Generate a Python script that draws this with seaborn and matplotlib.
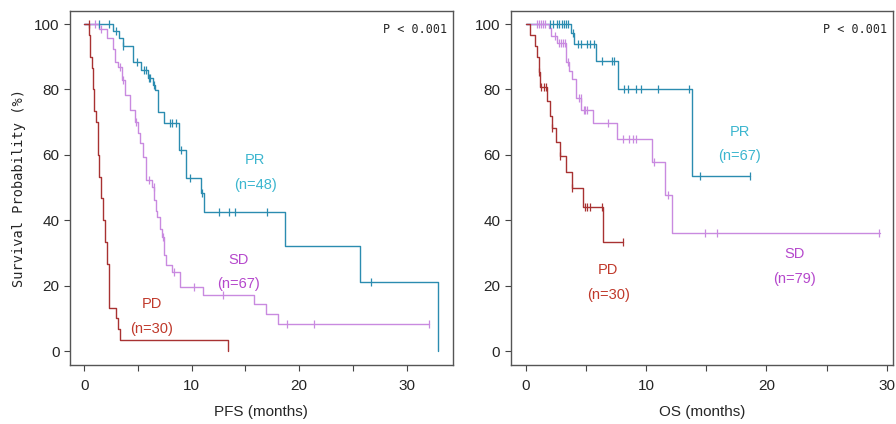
import seaborn as sns
import matplotlib.pyplot as plt

# PFS curves (step points: time in months, survival %)
pfs_pr_t = [0, 2.7, 3.2, 3.57, 4.56, 5.3, 5.9, 6.36, 6.6, 6.9, 7.44, 8.8, 9.5, 10.86, 11.1, 18.7, 25.7, 32.9]
pfs_pr_s = [100, 97.9, 95.8, 93.4, 88.5, 86.0, 83.4, 81.3, 79.8, 73.2, 69.8, 61.6, 52.8, 48.2, 42.5, 32.0, 21.2, 0]
pfs_pr_cens_t = [1.4, 2.35, 2.95, 3.65, 4.87, 5.6, 5.75, 6.0, 6.15, 6.45, 8.0, 8.2, 8.56, 9.0, 9.8, 10.98, 12.5, 13.5, 14.0, 17.0, 26.7]
pfs_pr_cens_s = [100, 100, 97.9, 93.4, 88.5, 86.0, 86.0, 83.4, 83.4, 81.3, 69.8, 69.8, 69.8, 61.6, 52.8, 48.2, 42.5, 42.5, 42.5, 42.5, 21.2]

pfs_sd_t = [0, 1.4, 2.08, 2.64, 2.86, 3.16, 3.48, 3.79, 4.25, 4.72, 4.97, 5.18, 5.43, 5.71, 6.27, 6.48, 6.64,
            6.73, 7.06, 7.28, 7.44, 7.57, 8.2, 8.9, 11.07, 15.8, 16.9, 18.05, 32.1]
pfs_sd_s = [100, 98.5, 95.6, 92.5, 88.5, 87.0, 82.9, 78.3, 73.7, 70.1, 66.6, 63.5, 59.4, 52.3, 50.2, 46.2, 42.8,
            41.0, 37.4, 34.9, 29.3, 26.2, 24.2, 19.6, 17.2, 14.3, 11.4, 8.4, 8.4]
pfs_sd_cens_t = [1.0, 1.6, 3.3, 3.6, 4.8, 6.0, 6.5, 7.3, 8.4, 10.2, 12.9, 18.9, 21.4, 32.1]
pfs_sd_cens_s = [100, 98.5, 87.0, 82.9, 70.1, 52.3, 50.2, 34.9, 24.2, 19.6, 17.2, 8.4, 8.4, 8.4]

pfs_pd_t = [0, 0.45, 0.55, 0.7, 0.84, 0.95, 1.1, 1.25, 1.4, 1.55, 1.75, 1.95, 2.1, 2.3, 3.0, 3.15, 3.3, 13.4]
pfs_pd_s = [100, 96.7, 90.0, 86.7, 80.0, 73.3, 70.0, 60.0, 53.3, 46.7, 40.0, 33.3, 26.7, 13.3, 10.0, 6.7, 3.3, 0]
pfs_pd_cens_t = [0.45]
pfs_pd_cens_s = [100]

# OS curves
os_pr_t = [0, 3.74, 4.0, 5.82, 7.63, 13.8, 18.6]
os_pr_s = [100, 97.2, 94.0, 88.6, 80.1, 53.4, 53.4]
os_pr_cens_t = [2.0, 2.3, 2.6, 2.8, 3.0, 3.2, 3.35, 3.5, 3.94, 4.35, 4.63, 5.05, 5.38, 5.66, 6.3, 7.13, 7.32,
                8.18, 8.46, 9.2, 9.6, 11.0, 13.6, 14.5, 18.6]
os_pr_cens_s = [100, 100, 100, 100, 100, 100, 100, 100, 97.2, 94.0, 94.0, 94.0, 94.0, 94.0, 88.6, 88.6, 88.6,
                80.1, 80.1, 80.1, 80.1, 80.1, 80.1, 53.4, 53.4]

os_sd_t = [0, 1.91, 2.13, 2.6, 3.38, 3.6, 3.85, 4.19, 4.57, 5.56, 7.6, 10.5, 11.56, 12.17, 29.45]
os_sd_s = [100, 98.7, 96.5, 94.1, 88.4, 85.6, 83.1, 77.5, 73.7, 69.6, 65.0, 57.8, 47.8, 36.0, 36.0]
os_sd_cens_t = [0.9, 1.1, 1.3, 1.45, 1.6, 2.4, 2.8, 2.95, 3.1, 3.25, 3.55, 4.4, 4.6, 4.8, 4.95, 5.1, 6.8,
                8.1, 8.6, 8.9, 9.2, 10.7, 11.8, 14.9, 15.9, 29.4]
os_sd_cens_s = [100, 100, 100, 100, 100, 96.5, 94.1, 94.1, 94.1, 94.1, 88.4, 77.5, 77.5, 73.7, 73.7, 73.7, 69.6,
                65.0, 65.0, 65.0, 65.0, 57.8, 47.8, 36.0, 36.0, 36.0]

os_pd_t = [0, 0.33, 0.75, 0.97, 1.08, 1.22, 1.77, 2.0, 2.19, 2.5, 2.83, 3.38, 3.88, 4.77, 6.43, 8.1]
os_pd_s = [100, 96.7, 93.3, 90.0, 85.5, 80.7, 76.5, 72.0, 68.1, 63.8, 59.5, 54.9, 49.8, 44.2, 33.2, 33.2]
os_pd_cens_t = [1.1, 1.3, 1.5, 1.65, 2.19, 2.83, 3.88, 4.9, 5.05, 5.38, 6.3, 8.1]
os_pd_cens_s = [85.5, 80.7, 80.7, 80.7, 68.1, 59.5, 49.8, 44.2, 44.2, 44.2, 44.2, 33.2]

groups = ["PR", "SD", "PD"]
line_colors = {"PR": "#2b8cb0", "SD": "#c98ae0", "PD": "#a83232"}
label_colors = {"PR": "#3cb6cf", "SD": "#b548cc", "PD": "#c0392b"}

pfs_n = {"PR": "(n=48)", "SD": "(n=67)", "PD": "(n=30)"}
os_n = {"PR": "(n=67)", "SD": "(n=79)", "PD": "(n=30)"}
pfs_label_pos = {"PR": (15.9, 58.4, 50.8), "SD": (14.4, 27.9, 20.6), "PD": (6.3, 14.3, 6.8)}
os_label_pos = {"PR": (17.8, 67.1, 59.6), "SD": (22.3, 29.8, 22.1), "PD": (6.85, 24.7, 17.0)}

pfs_curves = {
    "PR": (pfs_pr_t, pfs_pr_s, pfs_pr_cens_t, pfs_pr_cens_s),
    "SD": (pfs_sd_t, pfs_sd_s, pfs_sd_cens_t, pfs_sd_cens_s),
    "PD": (pfs_pd_t, pfs_pd_s, pfs_pd_cens_t, pfs_pd_cens_s),
}
os_curves = {
    "PR": (os_pr_t, os_pr_s, os_pr_cens_t, os_pr_cens_s),
    "SD": (os_sd_t, os_sd_s, os_sd_cens_t, os_sd_cens_s),
    "PD": (os_pd_t, os_pd_s, os_pd_cens_t, os_pd_cens_s),
}

sns.set_style("white")
plt.rcParams['font.family'] = ['Liberation Sans', 'DejaVu Sans']

fig = plt.figure(figsize=(8.96, 4.24), dpi=100)
ax1 = fig.add_axes([0.078, 0.139, 0.4275, 0.835])
ax2 = fig.add_axes([0.570, 0.139, 0.4263, 0.835])


def draw_panel(ax, curves, ns, label_pos, xlim, xlabel):
    for g in groups:
        t, s, ct, cs = curves[g]
        sns.lineplot(x=t, y=s, ax=ax, color=line_colors[g], linewidth=1.0,
                     drawstyle="steps-post", estimator=None, sort=False)
        sns.scatterplot(x=ct, y=cs, ax=ax, color=line_colors[g], marker="|",
                        s=28, linewidth=0.9, zorder=3)
        x, y1, y2 = label_pos[g]
        ax.text(x, y1, g, color=label_colors[g], ha="center", va="center", fontsize=10.5)
        ax.text(x, y2, ns[g], color=label_colors[g], ha="center", va="center", fontsize=10.5)

    ax.set_xlim(*xlim)
    ax.set_ylim(-4.3, 104)
    ax.set_xticks([0, 10, 20, 30])
    ax.set_xticks([5, 15, 25], minor=True)
    ax.set_yticks([0, 20, 40, 60, 80, 100])
    ax.tick_params(axis="both", which="both", direction="out", length=4, width=0.8,
                   color="#444444", labelsize=11, bottom=True, left=True)
    ax.tick_params(axis="x", pad=6)
    for sp in ax.spines.values():
        sp.set_color("#555555")
        sp.set_linewidth(1.0)
    ax.set_xlabel(xlabel, fontsize=11, labelpad=9)
    ax.text(0.985, 0.965, "P < 0.001", transform=ax.transAxes, ha="right", va="top",
            fontsize=8.5, family="DejaVu Sans Mono")


draw_panel(ax1, pfs_curves, pfs_n, pfs_label_pos, (-1.33, 34.3), "PFS (months)")
draw_panel(ax2, os_curves, os_n, os_label_pos, (-1.25, 30.5), "OS (months)")
ax1.set_ylabel("Survival Probability (%)", fontsize=9.8, labelpad=6, family="DejaVu Sans Mono")
ax2.set_ylabel("")

fig.savefig("out.png", dpi=100)
